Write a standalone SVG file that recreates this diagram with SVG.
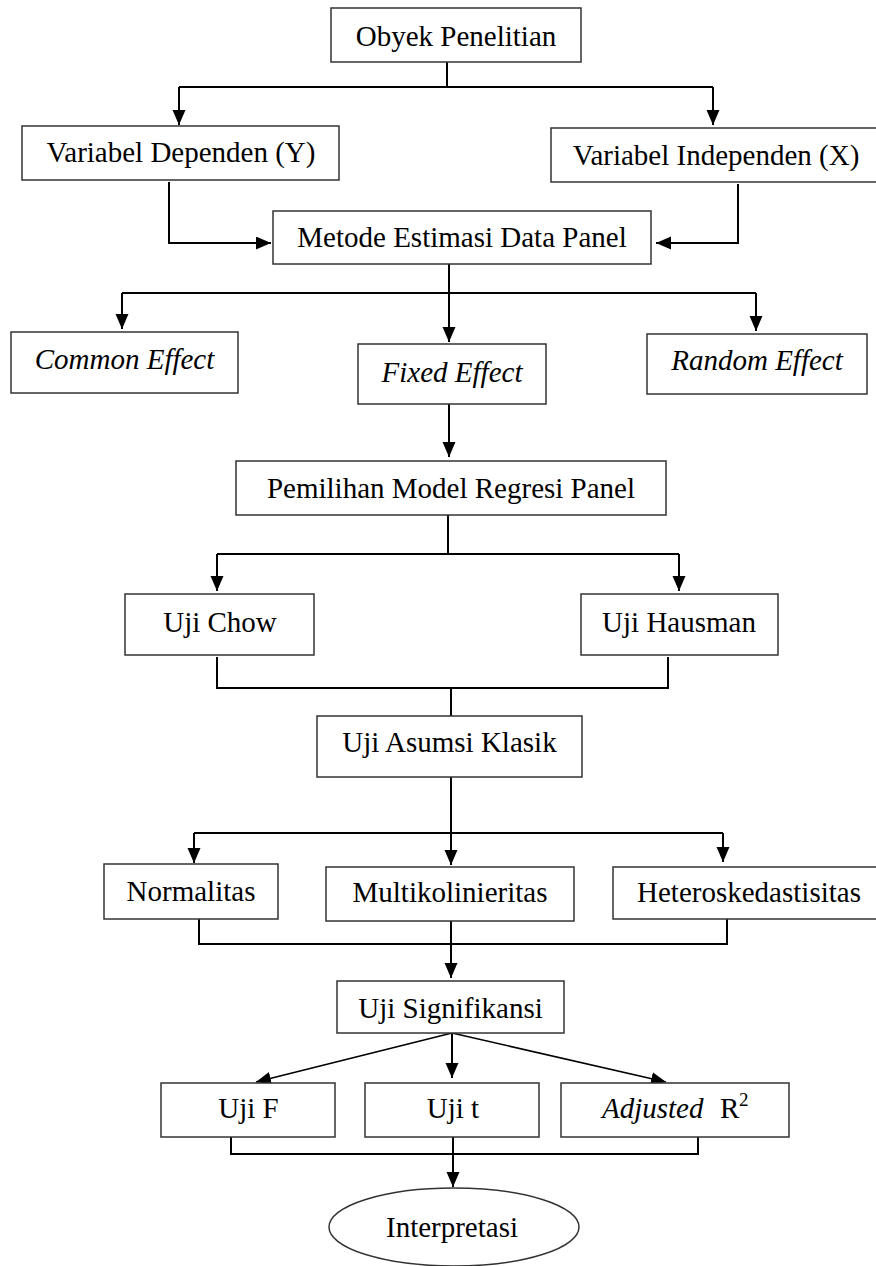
<svg xmlns="http://www.w3.org/2000/svg" width="876" height="1266" viewBox="0 0 876 1266">
<style>
.box{fill:#fff;stroke:#333;stroke-width:1.5}
.t{font-family:"Liberation Serif","Times New Roman",serif;font-size:29px;fill:#000;text-anchor:middle}
.it{font-style:italic}
.c path{fill:none;stroke:#000;stroke-width:2}
.c path.a{marker-end:url(#ah)}
.c path.d{stroke-width:1.6}
</style>
<defs>
<marker id="ah" markerUnits="userSpaceOnUse" markerWidth="16" markerHeight="14" refX="15" refY="6.5" orient="auto">
<path d="M0,0 L15,6.5 L0,13 z" fill="#000"/>
</marker>
</defs>
<rect width="876" height="1266" fill="#fff"/>
<g class="c" id="connectors">
<path d="M447,62 V87"/>
<path d="M179,87 H713"/>
<path class="a" d="M179,87 V125"/>
<path class="a" d="M713,87 V125"/>
<path class="a" d="M169,182 V243 H271"/>
<path class="a" d="M738,184 V243 H656"/>
<path class="a" d="M449,264 V342"/>
<path d="M122,293 H756"/>
<path class="a" d="M122,293 V329"/>
<path class="a" d="M756,293 V331"/>
<path class="a" d="M449,404 V457"/>
<path d="M448,515 V554"/>
<path d="M217,554 H679"/>
<path class="a" d="M217,554 V591"/>
<path class="a" d="M679,554 V591"/>
<path d="M217,657 V688 H668 V657"/>
<path d="M451,688 V716"/>
<path class="a" d="M451,777 V865"/>
<path d="M194,833 H723"/>
<path class="a" d="M194,833 V863"/>
<path class="a" d="M723,833 V862"/>
<path d="M199,919 V944 H727 V919"/>
<path class="a" d="M451,921 V978"/>
<path class="a d" d="M452,1033 L256,1082"/>
<path class="a" d="M452,1033 V1078"/>
<path class="a d" d="M452,1033 L666,1082"/>
<path d="M231,1137 V1154 H698 V1137"/>
<path class="a" d="M453,1137 V1187"/>
</g>
<g id="n-obyek"><rect class="box" x="331" y="8" width="250" height="54"/><text class="t" x="456" y="46">Obyek Penelitian</text></g>
<g id="n-dependen"><rect class="box" x="22" y="126" width="317" height="54"/><text class="t" x="181" y="162">Variabel Dependen (Y)</text></g>
<g id="n-independen"><rect class="box" x="551" y="128" width="332" height="54"/><text class="t" x="716" y="165">Variabel Independen (X)</text></g>
<g id="n-metode"><rect class="box" x="273" y="211" width="378" height="53"/><text class="t" x="462" y="247">Metode Estimasi Data Panel</text></g>
<g id="n-common"><rect class="box" x="11" y="332" width="227" height="61"/><text class="t it" x="124.5" y="369">Common Effect</text></g>
<g id="n-fixed"><rect class="box" x="358" y="344" width="188" height="60"/><text class="t it" x="452" y="382">Fixed Effect</text></g>
<g id="n-random"><rect class="box" x="647" y="334" width="220" height="60"/><text class="t it" x="757" y="370">Random Effect</text></g>
<g id="n-pemilihan"><rect class="box" x="236" y="461" width="430" height="54"/><text class="t" x="451" y="498">Pemilihan Model Regresi Panel</text></g>
<g id="n-chow"><rect class="box" x="125" y="594" width="189" height="61"/><text class="t" x="220" y="632">Uji Chow</text></g>
<g id="n-hausman"><rect class="box" x="581" y="594" width="197" height="61"/><text class="t" x="679" y="632">Uji Hausman</text></g>
<g id="n-asumsi"><rect class="box" x="317" y="716" width="265" height="61"/><text class="t" x="449.5" y="752">Uji Asumsi Klasik</text></g>
<g id="n-normalitas"><rect class="box" x="104" y="864" width="174" height="55"/><text class="t" x="191" y="901">Normalitas</text></g>
<g id="n-multikol"><rect class="box" x="326" y="867" width="248" height="54"/><text class="t" x="450" y="902">Multikolinieritas</text></g>
<g id="n-hetero"><rect class="box" x="613" y="867" width="270" height="52"/><text class="t" x="749" y="902">Heteroskedastisitas</text></g>
<g id="n-signifikansi"><rect class="box" x="337" y="981" width="227" height="52"/><text class="t" x="450.5" y="1018">Uji Signifikansi</text></g>
<g id="n-ujif"><rect class="box" x="161" y="1083" width="174" height="54"/><text class="t" x="248.5" y="1118">Uji F</text></g>
<g id="n-ujit"><rect class="box" x="365" y="1083" width="174" height="54"/><text class="t" x="453" y="1118">Uji t</text></g>
<g id="n-adjusted"><rect class="box" x="561" y="1083" width="228" height="54"/><text class="t" x="602" y="1118" style="text-anchor:start"><tspan class="it">Adjusted</tspan><tspan x="720">R</tspan><tspan x="739" dy="-12" font-size="19">2</tspan></text></g>
<g id="n-interpretasi"><ellipse class="box" cx="454" cy="1227" rx="125" ry="39"/><text class="t" x="452" y="1237">Interpretasi</text></g>
</svg>
